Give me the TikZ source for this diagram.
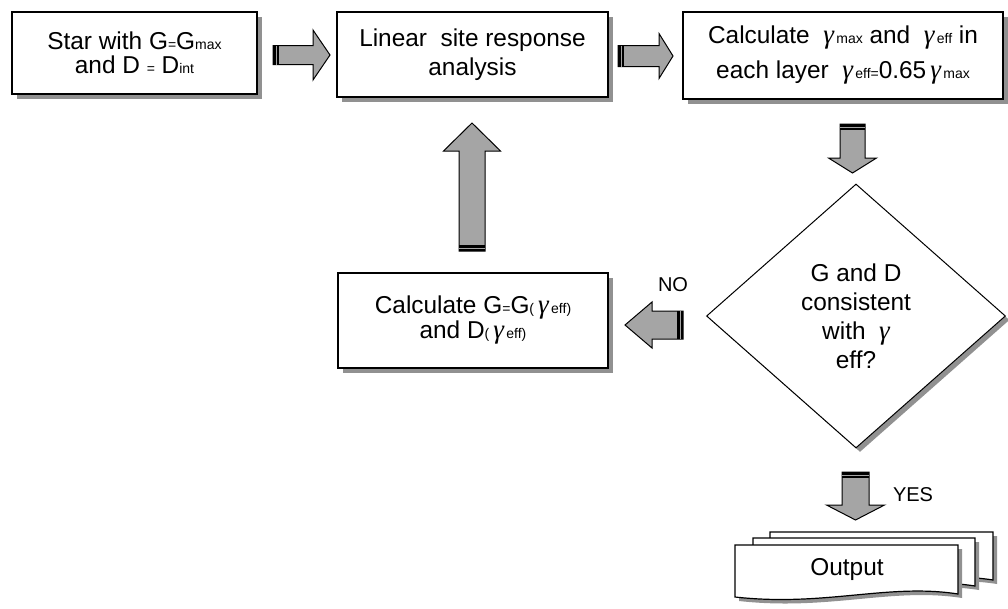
\documentclass[tikz,border=0pt]{standalone}
\usepackage{fontspec}
\setmainfont{Liberation Sans}
\newfontfamily\gfont{Liberation Serif}
\usetikzlibrary{shapes.geometric,shadows,calc}
\newcommand{\sm}[1]{{\fontsize{14}{14}\selectfont #1}}
\newcommand{\gm}{{\fontsize{27}{27}\gfont\itshape γ}}
\definecolor{arrowgray}{RGB}{165,165,165}
\definecolor{shadowgray}{RGB}{145,145,145}
% block arrow: tail x, tail y, angle, length, shaft half, head half, head length
\newcommand{\barrow}[7]{%
\begin{scope}[shift={(#1,#2)}, rotate=#3]
\filldraw[fill=arrowgray, line width=1pt] (0,-#5) -- ({#4-#7},-#5) -- ({#4-#7},-#6) -- (#4,0) -- ({#4-#7},#6) -- ({#4-#7},#5) -- (0,#5) -- cycle;
\fill[black] (0,-#5) rectangle (6,#5);
\draw[arrowgray, line width=0.7pt] (3,-#5) -- (3,#5);
\end{scope}}
\newcommand{\docpath}[4]{(#1,#2) -- (#3,#2) -- (#3,{#4-3}) .. controls ({#3-70},{#4-14}) and ({#1+90},{#4+10}) .. (#1,#4) -- cycle}
\tikzset{
  box/.style={draw=black, line width=1.2pt, fill=white, align=center, inner sep=0pt,
    drop shadow={shadow xshift=5pt, shadow yshift=-5pt, fill=shadowgray, opacity=1},
    font=\fontsize{24.4}{25}\selectfont},
  decision/.style={diamond, draw=black, line width=1pt, fill=white, align=center, inner sep=0pt,
    drop shadow={shadow xshift=4pt, shadow yshift=-4pt, fill=shadowgray, opacity=1},
    font=\fontsize{24.4}{29}\selectfont},
  doc/.style={draw=black, line width=1.2pt, fill=white,
    drop shadow={shadow xshift=4pt, shadow yshift=-4pt, fill=shadowgray, opacity=1}},
  lbl/.style={font=\fontsize{20}{22}\selectfont, inner sep=0pt}
}
\begin{document}
\begin{tikzpicture}[x=1pt,y=-1pt]
\useasboundingbox (0,0) rectangle (1008,608);
\node[box, minimum width=245pt, minimum height=82pt, font=\fontsize{24.4}{24}\selectfont] (start) at (134.5,53)
  {Star with G\sm{=}G\sm{max}\\and D \sm{=} D\sm{int}};
\node[box, minimum width=271pt, minimum height=85pt, font=\fontsize{24.4}{29}\selectfont] (linear) at (472.5,54.5)
  {Linear\ \ site response\\analysis};
\node[box, minimum width=320pt, minimum height=87pt, font=\fontsize{24.4}{35}\selectfont] (calc) at (843,55.5)
  {Calculate \ \gm\sm{\,max} and \ \gm\sm{\,eff} in\\each layer \ \gm\sm{\,eff=}0.65\,\gm\sm{\,max}};
\node[decision, minimum width=299pt, minimum height=264pt] (check) at (856,316)
  {G and D\\consistent\\with \ \gm\ \ \\eff?};
\node[box, minimum width=270pt, minimum height=95pt, font=\fontsize{24.4}{25}\selectfont] (update) at (473,320.5)
  {Calculate G\sm{=}G\sm{(}\,\gm\sm{\,eff)}\\and D\sm{(}\,\gm\sm{\,eff)}};
% output documents
\filldraw[doc] \docpath{770}{532}{993}{583};
\filldraw[doc] \docpath{753}{538}{975}{589};
\filldraw[doc] \docpath{735}{545}{958}{597};
\node[font=\fontsize{24.4}{24}\selectfont] (out) at (847,570) {Output};
% block arrows
\barrow{273}{55}{0}{57}{9.5}{25}{17}
\barrow{618}{56}{0}{55}{10.5}{22.5}{14}
\barrow{852.5}{124}{-90}{49}{12.5}{24}{15}
\barrow{683}{325}{180}{58}{14}{23}{27}
\barrow{472}{251}{90}{128}{13}{28.5}{28}
\barrow{855.5}{472}{-90}{48}{13.5}{29}{15}
\node[lbl] (no) at (673,285) {NO};
\node[lbl] (yes) at (913,495) {YES};
\end{tikzpicture}
\end{document}
